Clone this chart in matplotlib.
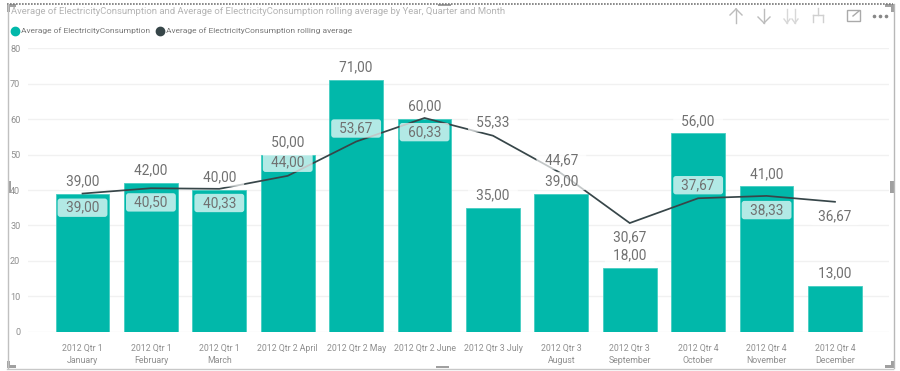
import matplotlib
matplotlib.use("Agg")
import matplotlib.pyplot as plt
from matplotlib.lines import Line2D
from matplotlib.patches import Rectangle

W, H = 900, 371
categories = ["2012 Qtr 1\nJanuary", "2012 Qtr 1\nFebruary", "2012 Qtr 1\nMarch", "2012 Qtr 2 April",
              "2012 Qtr 2 May", "2012 Qtr 2 June", "2012 Qtr 3 July", "2012 Qtr 3\nAugust",
              "2012 Qtr 3\nSeptember", "2012 Qtr 4\nOctober", "2012 Qtr 4\nNovember", "2012 Qtr 4\nDecember"]
consumption = [39, 42, 40, 50, 71, 60, 35, 39, 18, 56, 41, 13]
rolling = [39.00, 40.50, 40.33, 44.00, 53.67, 60.33, 55.33, 44.67, 30.67, 37.67, 38.33, 36.67]
rolling_label_dir = [-1, -1, -1, 1, 1, -1, 1, 1, -1, 1, -1, -1]
yticks = [0, 10, 20, 30, 40, 50, 60, 70, 80]
title = "Average of ElectricityConsumption and Average of ElectricityConsumption rolling average by Year, Quarter and Month"
legend_labels = ["Average of ElectricityConsumption", "Average of ElectricityConsumption rolling average"]

TEAL = "#01B8AA"
DARK = "#374649"

plt.rcParams["font.family"] = ["Roboto", "DejaVu Sans"]
fig = plt.figure(figsize=(W / 100, H / 100), dpi=100, facecolor="white")


def fx(p):
    return p / W


def fy(p):
    return 1 - p / H


left, right, top, bottom = 28, 889, 48.3, 331.7
ax = fig.add_axes([fx(left), fy(bottom), fx(right - left), (bottom - top) / H])
ax.set_xlim(-0.797, 11.79)
ax.set_ylim(0, 80)
for s in ax.spines.values():
    s.set_visible(False)
ax.set_axisbelow(True)
ax.yaxis.grid(True, color="#f1f1f1", lw=1)
ax.tick_params(length=0)
ax.set_yticks(yticks)
ax.set_yticklabels([str(v) for v in yticks], fontsize=6.6, color="#8f8f8f")
ax.tick_params(axis="y", pad=5.5)
xs = list(range(len(categories)))
ax.set_xticks(xs)
ax.set_xticklabels(categories, fontsize=6.3, color="#8f8f8f", linespacing=1.45)
ax.tick_params(axis="x", pad=8.5)

ax.bar(xs, consumption, width=0.785, color=TEAL, edgecolor="#45cdc2", lw=0.6, zorder=2)
ax.plot(xs, rolling, color=DARK, lw=1.25, zorder=3, solid_joinstyle="miter")

box = dict(boxstyle="round,pad=0.16,rounding_size=0.2", fc="white", ec="none", alpha=0.7)
lab = dict(ha="center", va="center", fontsize=9.8, color="#707070", zorder=4,
           textcoords="offset points", bbox=box)


def fmt(v):
    return "\u2009 " + f"{v:.2f}".replace(".", ",") + " \u2009"


for x, v in zip(xs, consumption):
    ax.annotate(fmt(v), (x, v), xytext=(0, 9.0), **lab)
for x, v, d in zip(xs, rolling, rolling_label_dir):
    ax.annotate(fmt(v), (x, v), xytext=(0, 9.8 * d - 0.4), **lab)

fig.text(fx(11), fy(11), title, fontsize=6.8, color="#b4b4b4", va="center", ha="left")
handles = [Line2D([], [], ls="", marker="o", ms=6, color=TEAL),
           Line2D([], [], ls="", marker="o", ms=6, color=DARK)]
fig.legend(handles, legend_labels, ncol=2, frameon=False, fontsize=6.0, labelcolor="#777777",
           loc="center left", bbox_to_anchor=(fx(7), fy(31)), handletextpad=-0.3,
           columnspacing=0.2, borderpad=0, borderaxespad=0)


# visual-container chrome, in pixel coordinates
def ln(xa, ya, xb, yb, c="#b0b0b0", lw=1.0, **k):
    fig.add_artist(Line2D([fx(xa), fx(xb)], [fy(ya), fy(yb)], color=c, lw=lw, **k))


ln(7, 3.5, 893, 3.5, c="#777777", lw=1.2, ls=(0, (1, 0.8)))
ln(7.5, 4, 7.5, 368, c="#c0c0c0", lw=1)
ln(7, 368.5, 893, 368.5, c="#c8c8c8", lw=1)
ln(893.5, 4, 893.5, 368, c="#b8b8b8", lw=1)
for (x, y, w, h) in [(7, 4, 9, 3), (7, 4, 3, 8), (7, 365, 9, 3), (7, 361, 3, 7), (438, 4, 13, 2),
                     (436, 366, 13, 2), (8, 181, 3, 12), (890, 181, 4, 12), (885, 4, 8, 3), (891, 4, 3, 8),
                     (885, 365, 9, 3), (891, 361, 3, 7)]:
    fig.add_artist(Rectangle((fx(x), fy(y + h)), w / W, h / H, fc="#a0a0a0", ec="none", transform=fig.transFigure))

IC = "#bcbcbc"
ln(736, 9, 736, 23, IC)
ln(730, 15, 736, 9, IC)
ln(742, 15, 736, 9, IC)
ln(764, 9, 764, 23, IC)
ln(758, 17, 764, 23, IC)
ln(770, 17, 764, 23, IC)
for xc in (787, 795):
    ln(xc, 9, xc, 23, "#d8d8d8")
    ln(xc - 3, 19, xc, 23, "#d8d8d8")
    ln(xc + 3, 19, xc, 23, "#d8d8d8")
ln(818, 8, 818, 15, "#d0d0d0")
ln(813, 15, 823, 15, "#d0d0d0")
ln(813, 15, 813, 22, "#d0d0d0")
ln(823, 15, 823, 22, "#d0d0d0")
fig.add_artist(Rectangle((fx(847), fy(21)), 13 / W, 11 / H, fc="none", ec="#aaaaaa", lw=1, transform=fig.transFigure))
ln(853, 16, 859, 11, "#aaaaaa")
fig.add_artist(Line2D([fx(874), fx(880), fx(886)], [fy(15.5)] * 3, ls="", marker="o", ms=1.6, color="#888888"))

fig.savefig("out.png", dpi=100)
